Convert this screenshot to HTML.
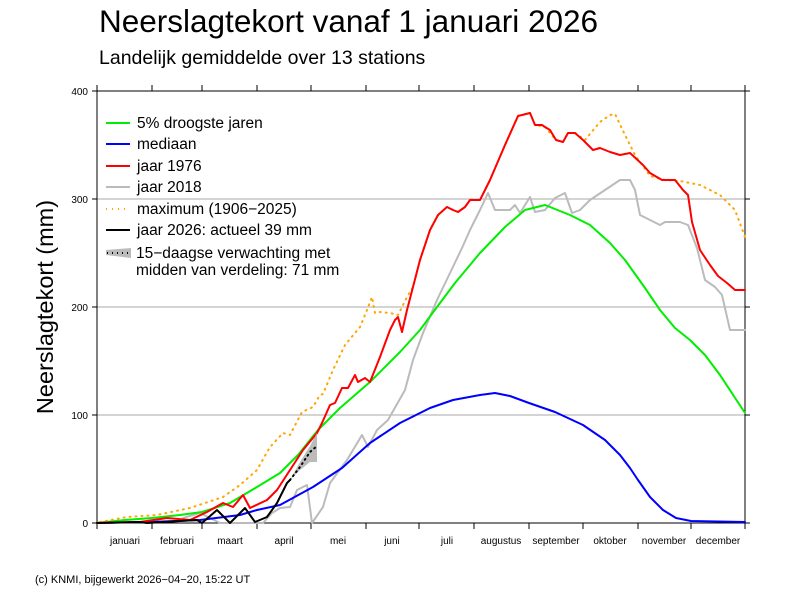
<!DOCTYPE html>
<html><head><meta charset="utf-8"><style>
html,body{margin:0;padding:0;background:#fff;}
svg{display:block;font-family:"Liberation Sans",sans-serif;}
</style></head><body>
<svg width="792" height="612" viewBox="0 0 792 612" xmlns="http://www.w3.org/2000/svg">
<rect width="792" height="612" fill="#fff"/>
<text x="99" y="32" font-size="31.5" fill="#000">Neerslagtekort vanaf 1 januari 2026</text>
<text x="99" y="64" font-size="19.5" fill="#000">Landelijk gemiddelde over 13 stations</text>
<text x="35" y="583" font-size="11" fill="#000">(c) KNMI, bijgewerkt 2026−04−20, 15:22 UT</text>
<text transform="translate(53,307) rotate(-90)" text-anchor="middle" font-size="23.5" fill="#000">Neerslagtekort (mm)</text>
<g stroke="#aaa" stroke-width="1">
<line x1="97" y1="199" x2="745" y2="199"/>
<line x1="97" y1="307" x2="745" y2="307"/>
<line x1="97" y1="415" x2="745" y2="415"/>
</g>
<g stroke="#000" stroke-width="1" fill="none">
<line x1="97" y1="91" x2="745" y2="91"/>
<line x1="97" y1="523" x2="745" y2="523"/>
<line x1="97" y1="91" x2="97" y2="523"/>
<line x1="745" y1="91" x2="745" y2="523"/>
<path d="M92 91H97M92 199H97M92 307H97M92 415H97M92 523H97M745 91H750M745 199H750M745 307H750M745 415H750M745 523H750"/>
<path d="M97 85V91M152 85V91M202 85V91M257 85V91M311 85V91M366 85V91M419 85V91M474 85V91M529 85V91M583 85V91M638 85V91M691 85V91M745 85V91"/>
<path d="M97 523V529M152 523V529M202 523V529M257 523V529M311 523V529M366 523V529M419 523V529M474 523V529M529 523V529M583 523V529M638 523V529M691 523V529M745 523V529"/>
</g>
<g font-size="10" text-anchor="end" fill="#000">
<text x="88" y="95">400</text><text x="88" y="203">300</text><text x="88" y="311">200</text><text x="88" y="419">100</text><text x="88" y="527">0</text>
</g>
<g font-size="10" text-anchor="middle" fill="#000">
<text x="125" y="544">januari</text><text x="177" y="544">februari</text><text x="230" y="544">maart</text><text x="284" y="544">april</text><text x="338" y="544">mei</text><text x="392" y="544">juni</text><text x="447" y="544">juli</text><text x="501" y="544">augustus</text><text x="556" y="544">september</text><text x="610" y="544">oktober</text><text x="664" y="544">november</text><text x="718" y="544">december</text>
</g>
<g fill="none" stroke-linejoin="round" stroke-linecap="round">
<polyline stroke="#bbb" stroke-width="2" points="183,518 200,513 220,523 263,523 272,513 280,508 290,507 297,490 307,485 312,523 323,507 330,483 347,460 362,435 368,447 377,430 388,420 405,390 413,360 423,333 437,300 450,273 462,248 470,230 480,210 488,193 495,210 510,210 515,205 520,213 530,197 535,212 545,210 555,198 565,193 572,213 580,210 590,200 605,190 620,180 630,180 635,190 640,215 650,220 660,225 665,222 680,222 688,225 697,248 705,280 715,287 722,295 730,330 745,330"/>
<polyline stroke="#00ee00" stroke-width="2" points="97,523 125,520 152,518 180,515 202,512 230,503 257,487 280,473 298,455 318,430 340,408 370,382 400,352 420,330 437,307 455,283 480,253 505,227 525,210 545,205 570,215 590,225 610,243 625,260 645,288 660,310 675,328 690,340 705,355 720,375 745,413"/>
<polyline stroke="#0000ff" stroke-width="2" points="97,523 150,522 200,520 240,515 257,510 280,505 313,487 342,468 370,443 400,423 430,408 453,400 480,395 495,393 510,396 529,403 555,412 583,425 605,440 620,455 630,468 638,480 650,497 663,510 676,518 691,521 745,522"/>
<polyline stroke="#ffa500" stroke-width="2" stroke-dasharray="1,5" points="100,522 127,517 157,515 190,508 223,497 240,485 257,470 270,447 283,433 290,435 302,412 313,407 320,395 323,394 333,370 345,345 360,327 367,310 372,297 375,313 380,312 390,313 398,315 407,297 413,287 420,260 430,230 438,215 447,207 453,210 458,212 465,207 470,200 480,200 490,180 505,145 518,116 530,113 535,125 545,127 556,140 563,142 568,133 575,133 585,140 600,122 610,115 615,114 625,135 635,155 650,176 665,180 680,181 700,185 720,195 735,210 745,237"/>
<polyline stroke="#ff0000" stroke-width="2" points="97,523 140,522 167,518 190,520 207,512 223,503 233,507 243,495 250,508 267,500 277,490 290,470 303,450 317,433 322,423 330,405 335,403 342,388 348,388 355,375 358,382 365,378 370,382 380,357 390,330 395,320 398,317 402,332 407,310 413,287 420,260 430,230 438,215 447,207 453,210 458,212 465,207 470,200 480,200 490,180 505,145 518,116 530,113 535,125 542,125 545,127 550,130 556,140 563,142 568,133 575,133 583,140 593,150 600,148 610,152 620,155 630,153 643,165 650,173 662,180 675,180 683,190 688,195 692,222 700,250 710,265 718,276 727,283 735,290 745,290"/>
<polygon fill="#bbb" stroke="none" points="290,480 300,462 310,446 317,433 317,462 310,462 300,470"/>
<polyline stroke="#000" stroke-width="2" stroke-dasharray="1,4" points="290,480 300,467 310,452 317,446"/>
<polyline stroke="#000" stroke-width="2" points="97,523 140,522 147,523 197,520 202,523 217,510 230,523 245,508 255,522 267,517 277,503 287,483 290,480"/>
</g>
<g stroke-width="2" fill="none">
<line x1="106" y1="123" x2="130" y2="123" stroke="#00ee00"/>
<line x1="106" y1="144" x2="130" y2="144" stroke="#0000ff"/>
<line x1="106" y1="166" x2="130" y2="166" stroke="#ff0000"/>
<line x1="106" y1="187" x2="130" y2="187" stroke="#bbb"/>
<line x1="106" y1="209" x2="130" y2="209" stroke="#ffa500" stroke-dasharray="1,5"/>
<line x1="106" y1="230" x2="130" y2="230" stroke="#000"/>
</g>
<polygon points="106,250 131,248 131,258 106,255" fill="#bbb"/>
<line x1="107" y1="253" x2="131" y2="253" stroke="#000" stroke-width="2" stroke-dasharray="1,4"/>
<g font-size="15.5" fill="#000">
<text x="137" y="128">5% droogste jaren</text>
<text x="137" y="149">mediaan</text>
<text x="137" y="171">jaar 1976</text>
<text x="137" y="192">jaar 2018</text>
<text x="137" y="214">maximum (1906−2025)</text>
<text x="137" y="235">jaar 2026: actueel 39 mm</text>
<text x="136" y="258">15−daagse verwachting met</text>
<text x="136" y="275">midden van verdeling: 71 mm</text>
</g>
</svg>
</body></html>
